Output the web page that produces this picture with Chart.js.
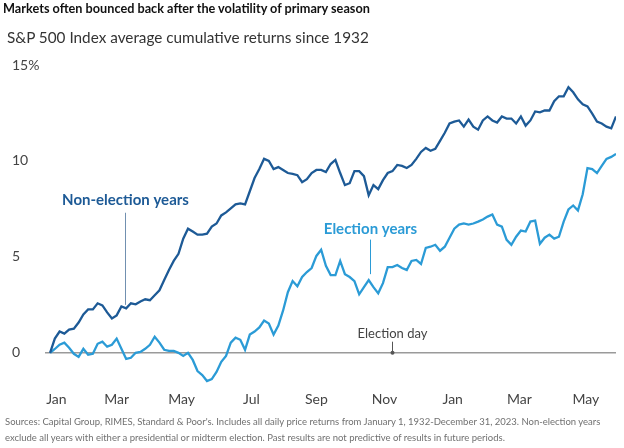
<!DOCTYPE html>
<html>
<head>
<meta charset="utf-8">
<script src="https://cdn.jsdelivr.net/npm/chart.js@4"></script>
<style>
  body { margin: 0; width: 624px; height: 448px; position: relative; overflow: hidden; background: #fff; font-family: Lato, sans-serif; }
  #title { position: absolute; left: 3px; top: 0px; font-size: 12.7px; font-weight: 700; color: #111; white-space: nowrap; }
  #subtitle { position: absolute; left: 7px; top: 28px; font-size: 15.3px; color: #333; white-space: nowrap; }
  #chart { position: absolute; left: 0; top: 0; }
  .foot { position: absolute; left: 5px; font-size: 9.5px; color: #707070; white-space: nowrap; }
</style>
</head>
<body>
<canvas id="chart" width="624" height="448"></canvas>
<div id="title">Markets often bounced back after the volatility of primary season</div>
<div id="subtitle">S&amp;P 500 Index average cumulative returns since 1932</div>
<div class="foot" style="top:416px">Sources: Capital Group, RIMES, Standard &amp; Poor's. Includes all daily price returns from January 1, 1932-December 31, 2023. Non-election years</div>
<div class="foot" style="top:432px">exclude all years with either a presidential or midterm election. Past results are not predictive of results in future periods.</div>
<script>
// x = trading days since Jan 1, sampled every 3 days
const days = Array.from({ length: 120 }, (_, i) => i * 3);

const tickDays = [4, 42, 83, 127, 168, 211, 254, 296, 338];
const tickLabels = ['Jan', 'Mar', 'May', 'Jul', 'Sep', 'Nov', 'Jan', 'Mar', 'May'];

const nonElection = [
  0.00, 0.74, 1.11, 1.00, 1.21, 1.26, 1.58, 2.00, 2.26, 2.26,
  2.58, 2.47, 2.11, 1.79, 1.95, 2.42, 2.32, 2.58, 2.53, 2.68,
  2.79, 2.74, 3.00, 3.26, 3.79, 4.32, 4.79, 5.16, 5.95, 6.47,
  6.32, 6.16, 6.16, 6.21, 6.58, 6.74, 7.16, 7.32, 7.53, 7.74,
  7.79, 7.74, 8.42, 9.11, 9.58, 10.11, 10.00, 9.58, 9.68, 9.53,
  9.37, 9.32, 9.26, 8.89, 9.05, 9.37, 9.53, 9.53, 9.42, 9.84,
  10.05, 9.37, 8.74, 8.84, 9.47, 9.47, 9.21, 8.21, 8.74, 8.53,
  9.00, 9.37, 9.47, 9.79, 9.74, 9.63, 9.79, 10.11, 10.47, 10.68,
  10.53, 10.63, 11.05, 11.47, 11.95, 12.05, 12.11, 11.79, 12.16, 11.79,
  11.63, 12.11, 12.32, 12.11, 12.00, 12.32, 12.21, 12.21, 11.95, 12.32,
  11.84, 12.11, 12.58, 12.53, 12.63, 12.63, 13.11, 13.37, 13.37, 13.84,
  13.58, 13.21, 12.95, 12.84, 12.47, 12.05, 11.95, 11.79, 11.70, 12.32
];

const election = [
  0.00, 0.20, 0.42, 0.53, 0.26, -0.05, -0.21, 0.21, -0.10, -0.05,
  0.47, 0.58, 0.32, 0.42, 0.74, 0.21, -0.32, -0.26, 0.00, 0.05,
  0.21, 0.42, 0.84, 0.53, 0.16, 0.10, 0.10, 0.00, -0.16, 0.00,
  -0.37, -0.95, -1.16, -1.47, -1.37, -1.00, -0.47, -0.16, 0.53, 0.79,
  0.68, 0.16, 0.95, 1.11, 1.32, 1.68, 1.53, 0.95, 1.42, 2.21,
  3.16, 3.74, 3.47, 3.95, 4.21, 4.42, 5.05, 5.37, 4.53, 4.05,
  4.05, 4.79, 4.10, 3.95, 3.74, 3.05, 3.42, 3.79, 3.42, 3.10,
  3.63, 4.47, 4.47, 4.58, 4.42, 4.32, 4.79, 4.84, 4.63, 5.47,
  5.53, 5.63, 5.32, 5.53, 6.00, 6.47, 6.68, 6.74, 6.68, 6.74,
  6.84, 6.95, 7.10, 7.21, 6.68, 6.58, 5.89, 5.63, 6.05, 6.37,
  6.32, 6.84, 6.89, 5.68, 6.00, 6.16, 5.95, 6.05, 6.84, 7.47,
  7.68, 7.42, 8.26, 9.63, 9.58, 9.37, 9.74, 10.11, 10.21, 10.37
];

const darkBlue = '#1d5a96';
const lightBlue = '#2b9bd6';

const notes = [
  { text: 'Non-election years', x: 47, labelY: 7.95, from: 7.3, to: 2.5, color: darkBlue, lineColor: '#7190b0', font: 'bold 15px Lato' },
  { text: 'Election years', x: 202, labelY: 6.47, from: 5.9, to: 4.1, color: lightBlue, lineColor: lightBlue, font: 'bold 15px Lato' },
  { text: 'Election day', x: 216, labelY: 1.0, from: 0.58, to: 0, color: '#444', lineColor: '#555', font: '13px Lato', dot: true }
];

const notesPlugin = {
  id: 'notes',
  afterDatasetsDraw(chart) {
    const { ctx, scales: { x, y } } = chart;
    ctx.save();
    notes.forEach(n => {
      const px = Math.round(x.getPixelForValue(n.x)) + 0.5;
      ctx.strokeStyle = n.lineColor;
      ctx.lineWidth = 1;
      ctx.beginPath();
      ctx.moveTo(px, y.getPixelForValue(n.from));
      ctx.lineTo(px, y.getPixelForValue(n.to));
      ctx.stroke();
      if (n.dot) {
        ctx.fillStyle = n.lineColor;
        ctx.beginPath();
        ctx.arc(px, y.getPixelForValue(n.to), 2, 0, Math.PI * 2);
        ctx.fill();
      }
      ctx.font = n.font;
      ctx.fillStyle = n.color;
      ctx.textAlign = 'center';
      ctx.textBaseline = 'middle';
      ctx.fillText(n.text, px, y.getPixelForValue(n.labelY));
    });
    ctx.restore();
  }
};

new Chart(document.getElementById('chart'), {
  type: 'line',
  data: {
    datasets: [
      {
        label: 'Non-election years',
        data: days.map((d, i) => ({ x: d, y: nonElection[i] })),
        borderColor: darkBlue,
        borderWidth: 2.3,
        pointRadius: 0,
        tension: 0
      },
      {
        label: 'Election years',
        data: days.map((d, i) => ({ x: d, y: election[i] })),
        borderColor: lightBlue,
        borderWidth: 2.3,
        pointRadius: 0,
        tension: 0
      }
    ]
  },
  options: {
    responsive: false,
    animation: false,
    layout: { padding: { left: 12, right: 8, top: 65, bottom: 40 } },
    plugins: {
      legend: { display: false },
      tooltip: { enabled: false }
    },
    scales: {
      x: {
        type: 'linear',
        min: -3.2,
        max: 357,
        afterBuildTicks: axis => { axis.ticks = tickDays.map(v => ({ value: v })); },
        grid: { display: false, drawTicks: false },
        border: { display: false },
        ticks: {
          autoSkip: false,
          maxRotation: 0,
          padding: 0,
          color: '#444',
          font: { family: 'Lato', size: 14 },
          callback: (v, i) => tickLabels[i]
        }
      },
      y: {
        min: -2,
        max: 15,
        afterBuildTicks: axis => { axis.ticks = [0, 5, 10, 15].map(v => ({ value: v })); },
        afterFit: axis => { axis.width = 33; },
        grid: {
          drawTicks: false,
          lineWidth: 1.5,
          color: c => c.tick && c.tick.value === 0 ? '#9a9a9a' : 'transparent'
        },
        border: { display: false },
        ticks: {
          crossAlign: 'far',
          padding: 0,
          color: '#444',
          font: { family: 'Lato', size: 14 },
          callback: v => v === 15 ? '15%' : v
        }
      }
    }
  },
  plugins: [notesPlugin]
});
</script>
</body>
</html>
